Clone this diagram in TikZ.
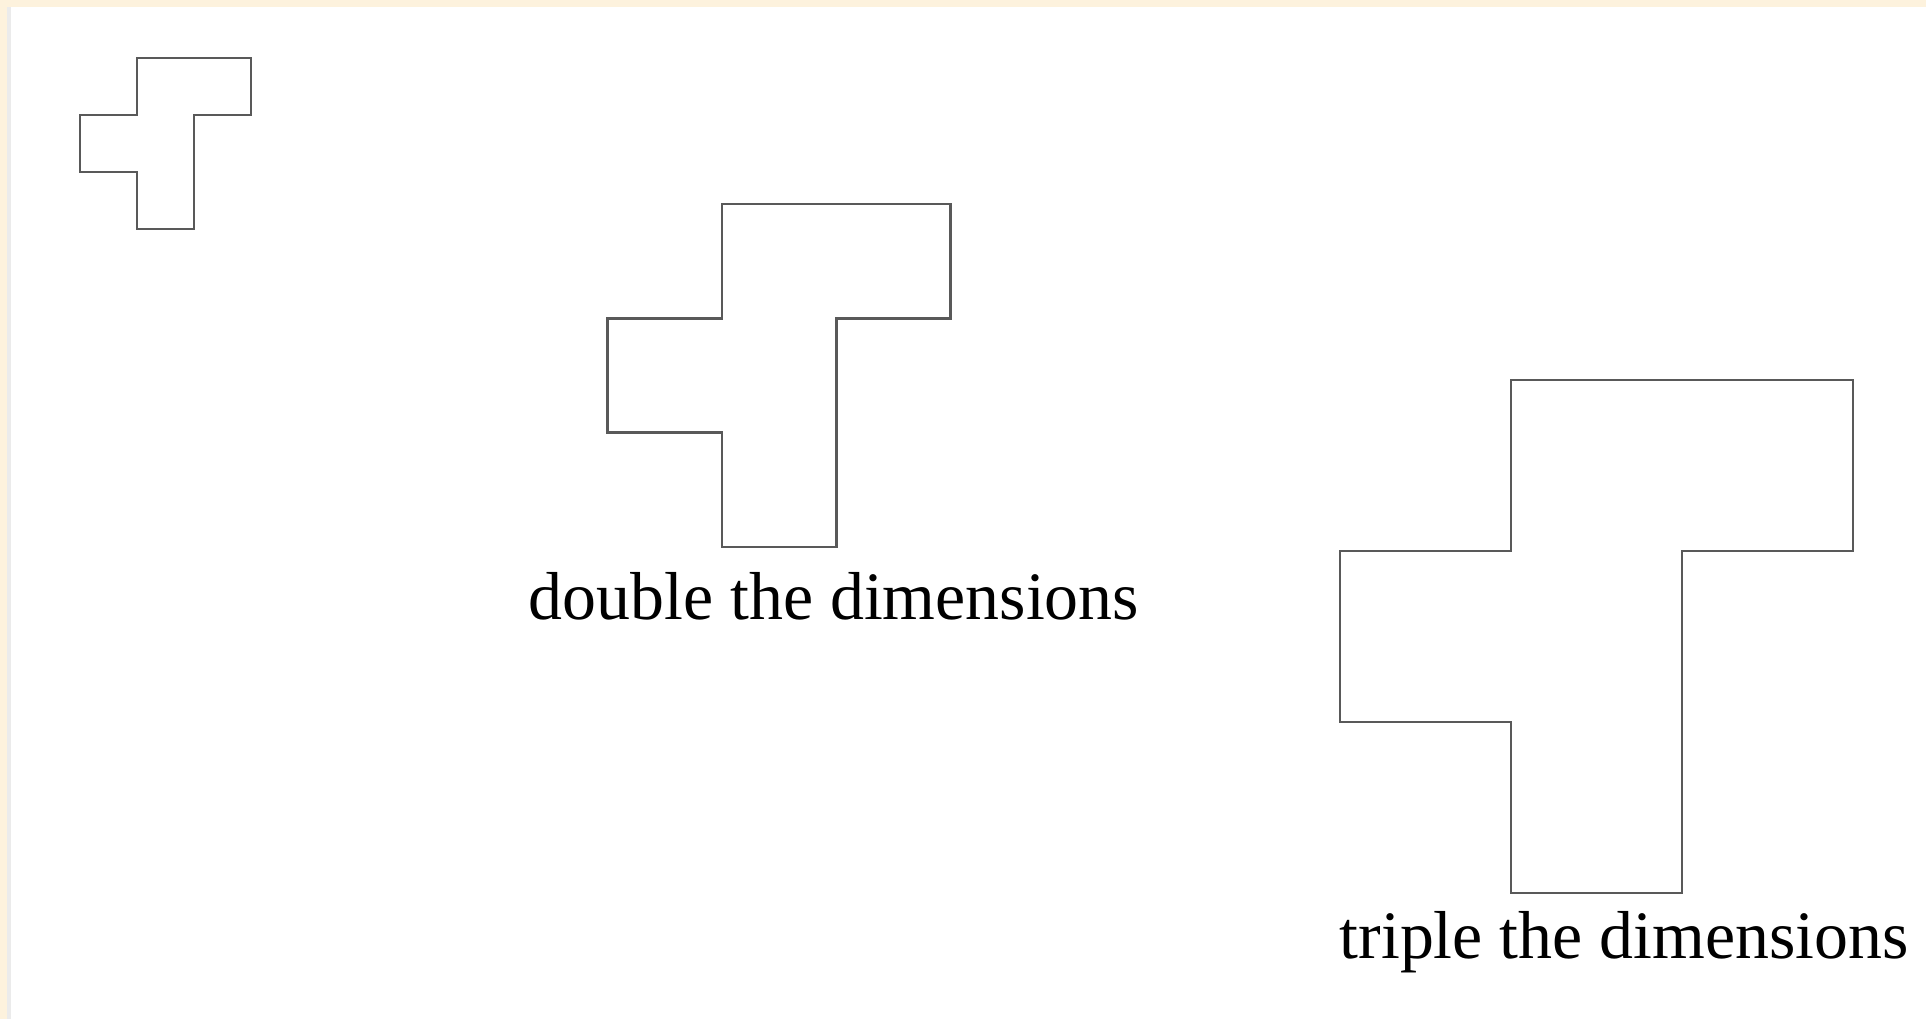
\documentclass[tikz,border=0pt]{standalone}
\usepackage{fontspec}
\setmainfont{Liberation Serif}
\usepackage{tikz}

\definecolor{pagebeige}{RGB}{253,242,221}

\begin{document}
\begin{tikzpicture}
  \tikzstyle{outline}=[draw=black!65,line width=0.7pt,line join=miter]
  \tikzstyle{caption}=[inner sep=0pt,anchor=base west,font=\fontsize{19.3}{22}\selectfont]
  \useasboundingbox (0,0) rectangle (19.26,10.19);
  \fill[pagebeige] (0,0) rectangle (19.26,10.19);
  \fill[black!8] (0.07,0) rectangle (0.11,10.12);
  \fill[white] (0.11,0) rectangle (19.26,10.12);

  % the same tile at three sizes
  \draw[outline,shift={(1.37,9.61)},scale=0.57]
    (0,0) -- (2,0) -- (2,-1) -- (1,-1) -- (1,-3) -- (0,-3) -- (0,-2) -- (-1,-2) -- (-1,-1) -- (0,-1) -- cycle;
  \draw[outline,shift={(7.22,8.15)},scale=1.143]
    (0,0) -- (2,0) -- (2,-1) -- (1,-1) -- (1,-3) -- (0,-3) -- (0,-2) -- (-1,-2) -- (-1,-1) -- (0,-1) -- cycle;
  \draw[outline,shift={(15.11,6.39)},scale=1.71]
    (0,0) -- (2,0) -- (2,-1) -- (1,-1) -- (1,-3) -- (0,-3) -- (0,-2) -- (-1,-2) -- (-1,-1) -- (0,-1) -- cycle;

  \node[caption] (lblDouble) at (5.28,3.99) {double the dimensions};
  \node[caption] (lblTriple) at (13.39,0.61) {triple the dimensions};
\end{tikzpicture}
\end{document}
